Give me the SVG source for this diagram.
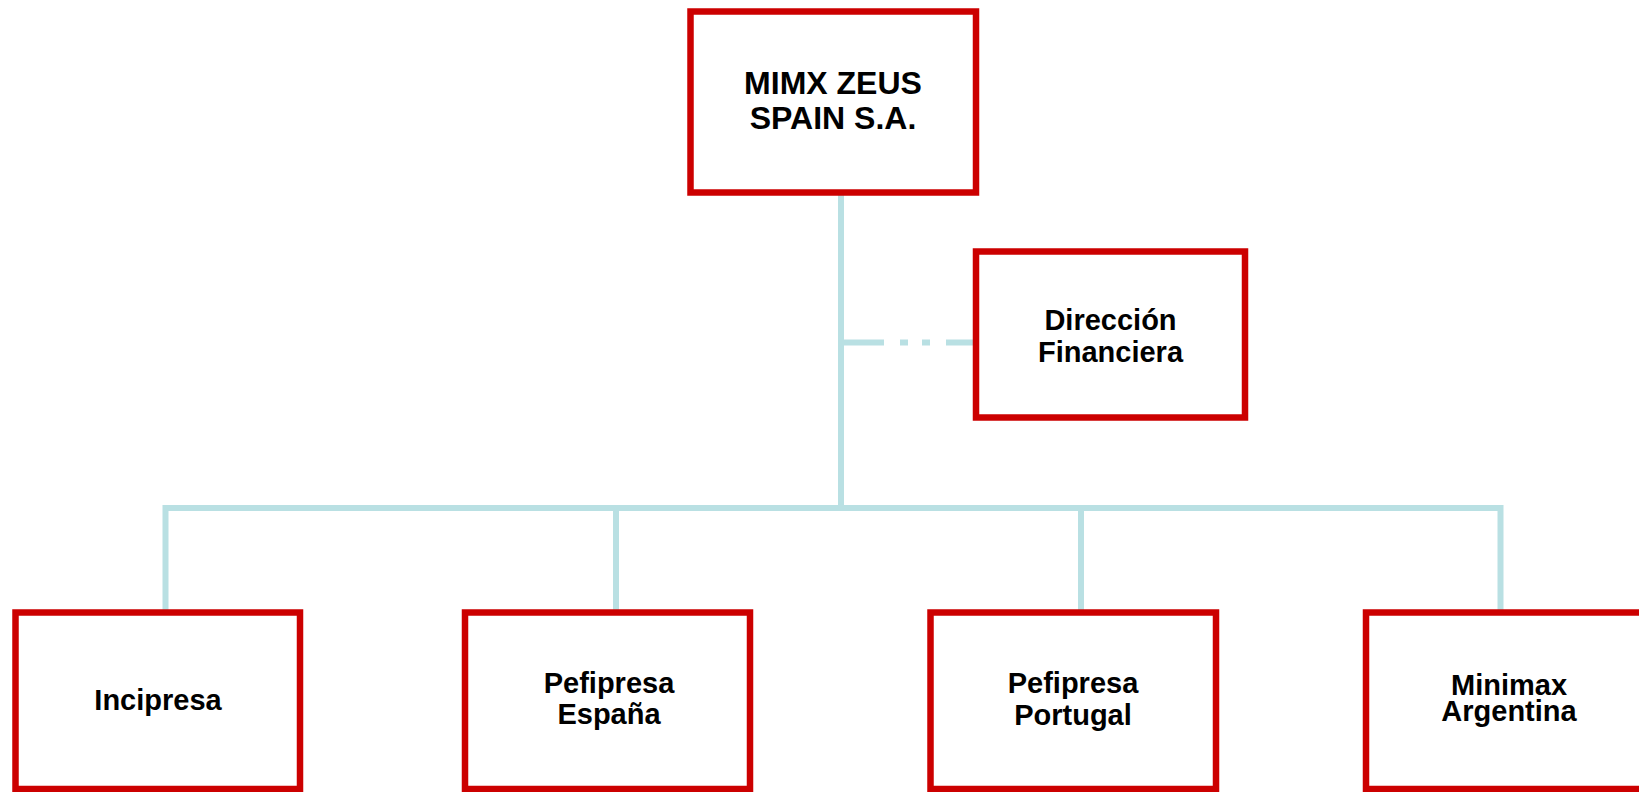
<svg xmlns="http://www.w3.org/2000/svg" width="1639" height="792" viewBox="0 0 1639 792">
<style>
.box{fill:#ffffff;stroke:#cc0000;stroke-width:6.5;}
.lbl{font-family:"Liberation Sans",Arial,sans-serif;font-weight:bold;fill:#000000;text-anchor:middle;}
.big{font-size:32px;}
.sm{font-size:29px;}
.conn{stroke:#b9e0e3;stroke-width:6;fill:none;}
.dd{stroke-dasharray:40 16 8 14 8 16;}
</style>
<rect width="1639" height="792" fill="#ffffff"/>
<g id="connectors">
<line class="conn" x1="841" y1="195" x2="841" y2="508"/>
<line class="conn dd" x1="844" y1="342.5" x2="973" y2="342.5"/>
<polyline class="conn" points="165.5,612 165.5,508 1500.5,508 1500.5,612"/>
<line class="conn" x1="616" y1="508" x2="616" y2="612"/>
<line class="conn" x1="1081" y1="508" x2="1081" y2="612"/>
</g>
<g id="node-mimx">
<rect class="box" x="690.5" y="11.5" width="285.5" height="181"/>
<text class="lbl big" x="833" y="94">MIMX ZEUS</text>
<text class="lbl big" x="833" y="129">SPAIN S.A.</text>
</g>
<g id="node-direccion">
<rect class="box" x="976" y="251.5" width="269" height="166"/>
<text class="lbl sm" x="1110.5" y="330">Dirección</text>
<text class="lbl sm" x="1110.5" y="362">Financiera</text>
</g>
<g id="node-incipresa">
<rect class="box" x="15.5" y="612.5" width="284.5" height="176.5"/>
<text class="lbl sm" x="158" y="710">Incipresa</text>
</g>
<g id="node-pefipresa-espana">
<rect class="box" x="465" y="612.5" width="285" height="176.5"/>
<text class="lbl sm" x="609" y="693">Pefipresa</text>
<text class="lbl sm" x="609" y="724">España</text>
</g>
<g id="node-pefipresa-portugal">
<rect class="box" x="930.5" y="612.5" width="285.5" height="176.5"/>
<text class="lbl sm" x="1073" y="693">Pefipresa</text>
<text class="lbl sm" x="1073" y="725">Portugal</text>
</g>
<g id="node-minimax">
<rect class="box" x="1366" y="612.5" width="285" height="176.5"/>
<text class="lbl sm" x="1509" y="695">Minimax</text>
<text class="lbl sm" x="1509" y="721">Argentina</text>
</g>
</svg>
